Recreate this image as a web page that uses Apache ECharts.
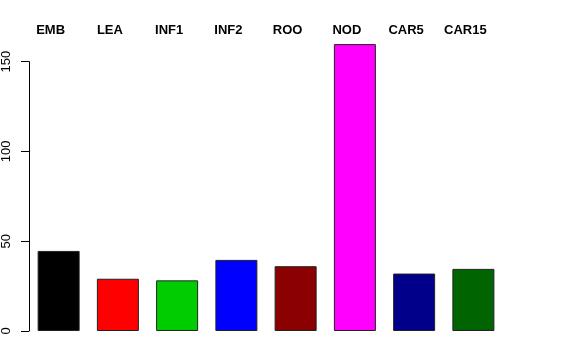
<!DOCTYPE html>
<html>
<head>
<meta charset="utf-8">
<script src="https://cdn.jsdelivr.net/npm/echarts@6/dist/echarts.min.js"></script>
<style>html,body{margin:0;padding:0;background:#fff}#c{width:576px;height:360px}</style>
</head>
<body>
<div id="c"></div>
<script>
var categories = ['EMB','LEA','INF1','INF2','ROO','NOD','CAR5','CAR15'];
var values = [44.6, 29.1, 28.2, 39.6, 36.1, 159.8, 32.0, 34.6];
var colors = ['#000000','#FF0000','#00CD00','#0000FF','#8B0000','#FF00FF','#00008B','#006400'];
var yTicks = [0, 50, 100, 150];

var chart = echarts.init(document.getElementById('c'), null, {renderer:'canvas'});
chart.setOption({
  animation: false,
  backgroundColor: '#ffffff',
  grid: {left: 29, right: 73, top: 61.7, bottom: 29, containLabel: false},
  xAxis: {
    type: 'category',
    data: categories,
    position: 'top',
    axisLine: {show: false},
    axisTick: {show: false},
    axisLabel: {
      margin: 25,
      fontFamily: 'Liberation Sans, Arial, sans-serif',
      fontWeight: 'bold',
      fontSize: 13,
      color: '#000',
      padding: [0, 16, 0, 0]
    }
  },
  yAxis: {
    type: 'value',
    min: yTicks[0],
    max: yTicks[yTicks.length-1],
    interval: 50,
    splitLine: {show: false},
    axisLine: {show: true, lineStyle: {color: '#000', width: 1}},
    axisTick: {show: true, length: 8, lineStyle: {color: '#000'}},
    axisLabel: {
      rotate: 90,
      margin: 16,
      fontFamily: 'Liberation Sans, Arial, sans-serif',
      fontSize: 13,
      color: '#000'
    }
  },
  series: [{
    type: 'bar',
    clip: false,
    barWidth: 42,
    data: values.map(function(v,i){return {value: v, itemStyle: {color: colors[i]}};}),
    itemStyle: {borderColor: '#222', borderWidth: 1}
  }]
});
</script>
</body>
</html>
